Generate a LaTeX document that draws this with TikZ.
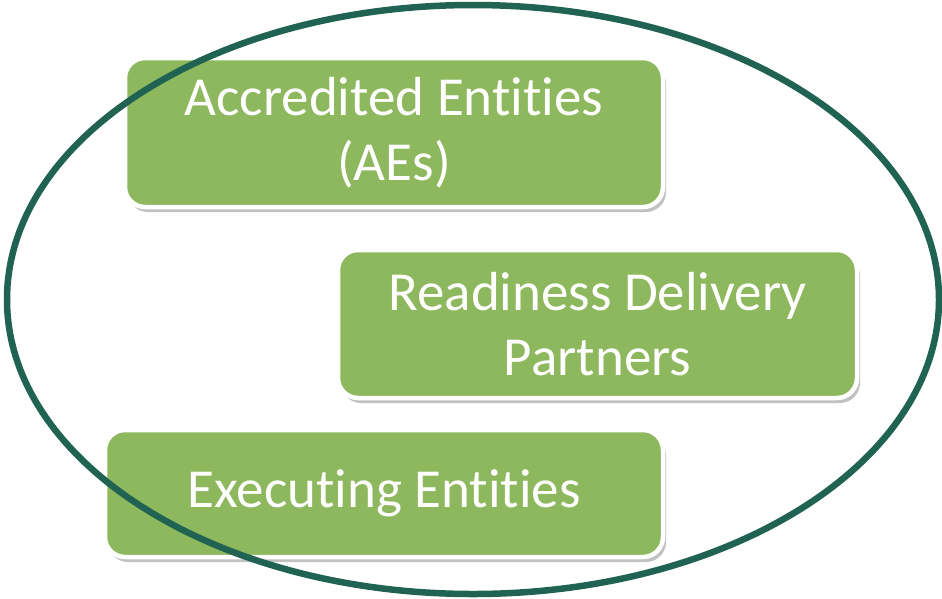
\documentclass[tikz,border=0pt]{standalone}
\usepackage{fontspec}
\setmainfont[Ligatures=NoCommon]{Carlito}
\usepackage{tikz}
\usetikzlibrary{shadows}
\definecolor{entitygreen}{RGB}{141,184,94}
\definecolor{ringgreen}{RGB}{33,99,82}

\begin{document}
\begin{tikzpicture}[x=1pt, y=-1pt,
    entity/.style={draw=white, line width=4.5pt, fill=entitygreen, rounded corners=20pt,
      text=white, font=\fontsize{55}{65}\selectfont, align=center, inner sep=0pt,
      drop shadow={shadow xshift=3pt, shadow yshift=-5pt, fill=black!35, opacity=0.7}}]
        \useasboundingbox (0,0) rectangle (942,598);

        % Accredited entities (top box)
        \node[entity, minimum width=538pt, minimum height=149pt] (ae) at (394,132.5)
            {Accredited Entities\\(AEs)};

        % Readiness delivery partners (middle box)
        \node[entity, minimum width=519pt, minimum height=148pt] (rdp) at (597.5,324)
            {Readiness Delivery\\Partners};

        % Executing entities (bottom box)
        \node[entity, minimum width=558pt, minimum height=127pt] (ee) at (384,493.5)
            {Executing Entities};

        % Surrounding ring
        \draw[color=ringgreen, line width=6.5pt] (473,299.5) ellipse [x radius=466, y radius=294.5];
\end{tikzpicture}
\end{document}
